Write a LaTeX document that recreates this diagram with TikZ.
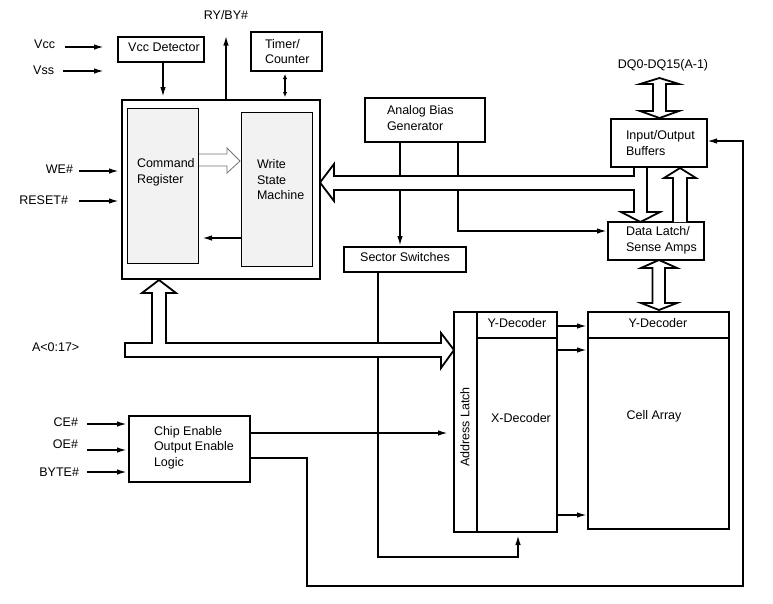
\documentclass[tikz,border=0pt]{standalone}
\usepackage{fontspec}
\setmainfont{Liberation Sans}
\usetikzlibrary{arrows.meta}
\begin{document}
\begin{tikzpicture}[x=1pt,y=-1pt,
  box/.style={draw,line width=2pt,inner sep=0pt,outer sep=0pt,anchor=north west},
  inbox/.style={draw,line width=0.8pt,fill=black!5,inner sep=0pt,outer sep=0pt,anchor=north west},
  txt/.style={inner sep=0pt,outer sep=0pt,align=left,font=\fontsize{12.5}{15.5}\selectfont},
  conn/.style={line width=2pt},
  arr/.style={line width=1.7pt,-{Latex[length=10pt,width=5.5pt]}},
  darr/.style={line width=1.7pt,{Latex[length=5pt,width=4.5pt]}-{Latex[length=5pt,width=4.5pt]}},
  hollow/.style={draw,line width=1.8pt,fill=white,line join=miter},
  thinhollow/.style={draw=black!55,line width=0.8pt,fill=white,line join=miter}]
\fill[white] (0,0) rectangle (773,603);
\useasboundingbox (0,0) rectangle (773,603);

% ---------- boxes ----------
\node[box,minimum width=86pt,minimum height=25pt] (vccdet) at (118,37) {};
\node[box,minimum width=71pt,minimum height=39pt] (timer) at (251,32) {};
\node[box,minimum width=198pt,minimum height=179pt] (main) at (122,100) {};
\node[box,minimum width=120pt,minimum height=44pt] (abg) at (365,98) {};
\node[box,minimum width=96pt,minimum height=48pt] (iob) at (611,119) {};
\node[box,minimum width=96pt,minimum height=38pt] (dl) at (608,222) {};
\node[box,minimum width=122pt,minimum height=25pt] (ss) at (344,247) {};
\node[box,minimum width=121pt,minimum height=66pt] (cee) at (129,416) {};
\node[box,minimum width=23pt,minimum height=220pt] (al) at (454,312) {};
\node[box,minimum width=80pt,minimum height=220pt] (xd) at (477,312) {};
\node[box,minimum width=141pt,minimum height=217pt] (ca) at (588,312) {};
\draw[conn] (xd.west |- 0,338) -- (xd.east |- 0,338);
\draw[conn] (ca.west |- 0,338) -- (ca.east |- 0,338);

% command register -> write state machine (thin hollow arrow)
\draw[thinhollow] (198,154) -- (227,154) -- (227,148) -- (240,161) -- (227,173) -- (227,166) -- (198,166);
\node[inbox,minimum width=71pt,minimum height=155pt] (cr) at (127,108) {};
\node[inbox,minimum width=71pt,minimum height=154pt] (wsm) at (241,112) {};

% ---------- texts in boxes ----------
\node[txt] (vccdett) at (164,47) {Vcc Detector};
\node[txt,anchor=west] (timert) at (265,51.5) {Timer/\\Counter};
\node[txt,anchor=west] (crt) at (137,172.5) {Command\\Register};
\node[txt,anchor=west] (wsmt) at (257,180) {Write\\State\\Machine};
\node[txt,anchor=west] (abgt) at (387,118) {Analog Bias\\Generator};
\node[txt,anchor=west] (iobt) at (626,143) {Input/Output\\Buffers};
\node[txt,anchor=west] (dlt) at (626,240.5) {Data Latch/\\Sense Amps};
\node[txt] (sst) at (405,257) {Sector Switches};
\node[txt,anchor=west] (ceet) at (154,447.5) {Chip Enable\\Output Enable\\Logic};
\node[txt,rotate=90] (alt) at (465,427) {Address Latch};
\node[txt] (ydt1) at (517,323) {Y-Decoder};
\node[txt] (xdt) at (521,418) {X-Decoder};
\node[txt] (ydt2) at (658,323) {Y-Decoder};
\node[txt] (cat) at (654,416) {Cell Array};

% ---------- outside labels ----------
\node[txt] (ryby) at (226,15) {RY/BY\#};
\node[txt,anchor=east] (vcc) at (55,44) {Vcc};
\node[txt,anchor=east] (vss) at (54,70) {Vss};
\node[txt,anchor=east] (we) at (73,169) {WE\#};
\node[txt,anchor=east] (reset) at (68,200) {RESET\#};
\node[txt,anchor=west] (addr) at (32,347) {A<0:17>};
\node[txt,anchor=east] (ce) at (78,422) {CE\#};
\node[txt,anchor=east] (oe) at (78,444) {OE\#};
\node[txt,anchor=east] (byte) at (79,472) {BYTE\#};
\node[txt] (dq) at (663,65) {DQ0-DQ15(A-1)};

% ---------- connectors ----------
\coordinate (vccend) at (104,47);
\coordinate (vssend) at (104,71);
\draw[arr,shorten <=10pt] (vcc.east |- vccend) -- (vccend);
\draw[arr,shorten <=9pt] (vss.east |- vssend) -- (vssend);
\draw[arr,shorten >=3pt] ([xshift=2pt]vccdet.south) -- ([xshift=2pt]vccdet.south |- main.north);
\draw[arr,shorten >=16pt] (ryby |- main.north) -- (ryby.south);
\draw[darr,shorten <=3pt,shorten >=3pt] (timer.south -| 285,0) -- (main.north -| 285,0);
\draw[arr,shorten <=6pt,shorten >=3pt] (we.east |- 0,171) -- (main.west |- 0,171);
\draw[arr,shorten <=11pt,shorten >=3pt] (reset.east |- 0,201) -- (main.west |- 0,201);
\draw[arr,shorten >=4pt] (wsm.west |- 0,238) -- (cr.east |- 0,238);

\draw[arr,shorten >=1pt] (abg.south -| 400,0) -- (ss.north -| 400,0);
\coordinate (abgturn) at (458,231);
\draw[arr,shorten >=1pt] (abg.south -| abgturn) -- (abgturn) -- (dl.west |- abgturn);

\coordinate (ssturn) at (378,557);
\coordinate (ssturn2) at (518,557);
\draw[arr,shorten >=3pt] (ss.south -| ssturn) -- (ssturn) -- (ssturn2) -- (xd.south -| ssturn2);

\draw[arr,shorten <=9pt,shorten >=2pt] (ce.east |- 0,424) -- (cee.west |- 0,424);
\draw[arr,shorten <=9pt,shorten >=2pt] (oe.east |- 0,450) -- (cee.west |- 0,450);
\draw[arr,shorten <=8pt,shorten >=2pt] (byte.east |- 0,472) -- (cee.west |- 0,472);
\draw[arr,shorten >=6pt] (cee.east |- 0,433) -- (al.west |- 0,433);
\coordinate (r1) at (307,458);
\coordinate (r2) at (307,586);
\coordinate (r3) at (743,586);
\coordinate (r4) at (743,141);
\draw[arr] (cee.east |- r1) -- (r1) -- (r2) -- (r3) -- (r4) -- (iob.east |- r4);

\draw[arr,shorten >=1pt] (xd.east |- 0,326) -- (ca.west |- 0,326);
\draw[arr,shorten >=1pt] (xd.east |- 0,350) -- (ca.west |- 0,350);
\draw[arr,shorten >=1pt] (xd.east |- 0,515) -- (ca.west |- 0,515);

% ---------- hollow bus arrows ----------
% internal data bus to main block, and I/O buffers -> data latch
\draw[hollow] (320,182.5) -- (334,164) -- (334,176) -- (634,176) -- (634,167) -- (647,167)
  -- (647,212) -- (660,212) -- (640.5,222) -- (621,212) -- (634,212) -- (634,190)
  -- (334,190) -- (334,201) -- cycle;
% data latch -> I/O buffers
\draw[hollow] (673,222) -- (673,178) -- (664,178) -- (680,168) -- (696,178) -- (687,178) -- (687,222);
% DQ pins <-> I/O buffers
\draw[hollow] (653,84) -- (640,84) -- (659.5,78) -- (679,84) -- (666,84) -- (666,111)
  -- (679,111) -- (659.5,118) -- (640,111) -- (653,111) -- cycle;
% data latch <-> cell array
\draw[hollow] (652.5,268) -- (641,268) -- (659,260) -- (677,268) -- (665,268) -- (665,303)
  -- (677,303) -- (659,310) -- (641,303) -- (652.5,303) -- cycle;
% address bus
\draw[hollow] (125,343) -- (152,343) -- (152,293) -- (142,293) -- (159,280) -- (176,293)
  -- (166,293) -- (166,343) -- (441,343) -- (441,333) -- (454,350) -- (441,368)
  -- (441,357) -- (125,357) -- cycle;
\end{tikzpicture}
\end{document}
